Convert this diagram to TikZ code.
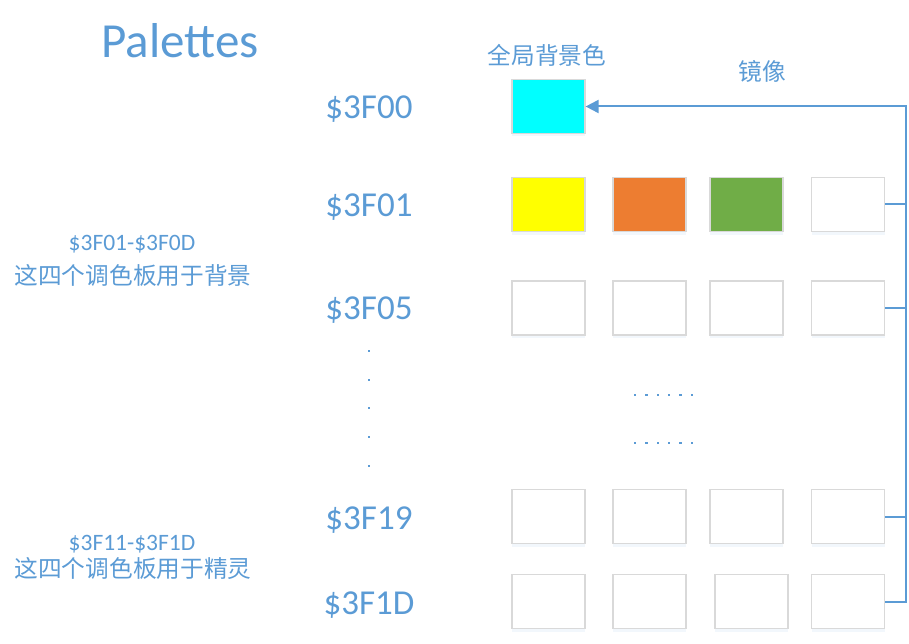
\documentclass[tikz,border=0pt]{standalone}
\usepackage{fontspec}
\setmainfont{Carlito}
\newfontfamily\cjk{Noto Sans CJK SC}
\usetikzlibrary{arrows.meta,shadows}
\definecolor{txtblue}{HTML}{5B9BD5}
\definecolor{wireblue}{HTML}{5B9BD5}
\definecolor{boxgray}{HTML}{D9D9D9}
\definecolor{cyanf}{HTML}{00FFFF}
\definecolor{yellowf}{HTML}{FFFF00}
\definecolor{orangef}{HTML}{ED7D31}
\definecolor{greenf}{HTML}{70AD47}
\begin{document}
\begin{tikzpicture}[x=1pt,y=-1pt,
  cell/.style={draw=boxgray,line width=1.2pt,fill=white,minimum width=73pt,minimum height=54pt,inner sep=0pt,
    drop shadow={opacity=0.08,shadow xshift=0pt,shadow yshift=-3pt,fill=txtblue}},
  addr/.style={text=txtblue,font=\fontsize{35}{40}\selectfont,inner sep=0pt,anchor=base},
  small/.style={text=txtblue,font=\fontsize{23.5}{27}\selectfont,inner sep=0pt,anchor=base},
  cjklab/.style={text=txtblue,font=\cjk\fontsize{23.7}{27}\selectfont,inner sep=0pt},
  cjknote/.style={cjklab,anchor=base,text height=18pt,text depth=2pt},
  wire/.style={draw=wireblue,line width=2pt},
  dotm/.style={fill=txtblue,minimum size=2.5pt,inner sep=0pt}
]
\useasboundingbox (0,0) rectangle (909,644);

% title
\node[text=txtblue,font=\fontsize{49}{54}\selectfont,inner sep=0pt,anchor=base] (title) at (180,58) {Palettes};
\node[cjklab] (global) at (547,55) {全局背景色};
\node[cjklab] (mirror) at (762,71) {镜像};

% address labels
\node[addr] (a00) at (369,119) {\$3F00};
\node[addr] (a01) at (369,217) {\$3F01};
\node[addr] (a05) at (369,319) {\$3F05};
\node[addr] (a19) at (369,529) {\$3F19};
\node[addr] (a1d) at (369,614) {\$3F1D};

% left notes
\node[small] (n1a) at (132,251) {\$3F01-\$3F0D};
\node[cjknote] (n1b) at (133,284) {这四个调色板用于背景};
\node[small] (n2a) at (132,550) {\$3F11-\$3F1D};
\node[cjknote] (n2b) at (133,577) {这四个调色板用于精灵};

% cells
\node[cell,fill=cyanf] (b00) at (548.5,106.5) {};

\node[cell,fill=yellowf] (b011) at (548.5,204.5) {};
\node[cell,fill=orangef] (b012) at (649.5,204.5) {};
\node[cell,fill=greenf] (b013) at (746.5,204.5) {};
\node[cell] (b014) at (848,204.5) {};

\node[cell] (b051) at (548.5,308) {};
\node[cell] (b052) at (649.5,308) {};
\node[cell] (b053) at (746.5,308) {};
\node[cell] (b054) at (848,308) {};

\node[cell] (b191) at (548.5,516.5) {};
\node[cell] (b192) at (649.5,516.5) {};
\node[cell] (b193) at (746.5,516.5) {};
\node[cell] (b194) at (848,516.5) {};

\node[cell] (b1d1) at (548.5,601.5) {};
\node[cell] (b1d2) at (649.5,601.5) {};
\node[cell] (b1d3) at (751.5,601.5) {};
\node[cell] (b1d4) at (848,601.5) {};

% vertical dots
\foreach \y [count=\i] in {351,380,408,437,466} {
  \node[dotm] (vd\i) at (369,\y) {};
}
% horizontal dots
\foreach \x [count=\i] in {635,646.4,657.8,669.2,680.6,692} {
  \node[dotm] (hda\i) at (\x,395) {};
  \node[dotm] (hdb\i) at (\x,443) {};
}

% mirror wiring
\coordinate (rail) at (906,0);
\draw[wire] (b014.east) -- (b014.east -| rail);
\draw[wire] (b054.east) -- (b054.east -| rail);
\draw[wire] (b194.east) -- (b194.east -| rail);
\draw[wire,-{Triangle[length=13pt,width=13pt]}] (b1d4.east) -- (b1d4.east -| rail) |- (b00.east);
\end{tikzpicture}
\end{document}
